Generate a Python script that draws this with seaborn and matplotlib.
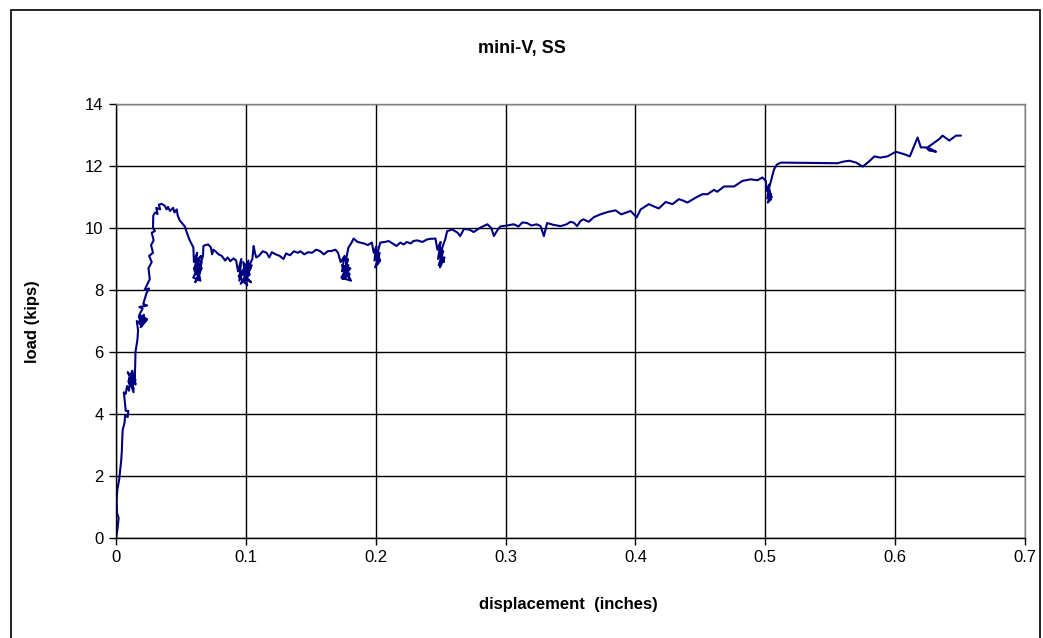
import matplotlib
matplotlib.use('agg')
import matplotlib.pyplot as plt
import seaborn as sns
import pandas as pd
from matplotlib.patches import Rectangle

# load-displacement record
# (each line of displacement_in pairs with the same line of load_kips)
displacement_in = [
    0.0000, 0.0012, 0.0020, 0.0008, 0.0005, 0.0010, 0.0025, 0.0030, 0.0040, 0.0045,
    0.0048, 0.0052, 0.0065, 0.0070, 0.0090, 0.0095, 0.0075, 0.0068, 0.0060, 0.0075,
    0.0085, 0.0100, 0.0110, 0.0090, 0.0120, 0.0135, 0.0105, 0.0140, 0.0150, 0.0125,
    0.0095, 0.0130, 0.0110, 0.0145, 0.0100, 0.0135, 0.0120, 0.0150, 0.0115, 0.0140,
    0.0145, 0.0148, 0.0150, 0.0165, 0.0170,
    0.0160, 0.0200, 0.0175, 0.0230, 0.0185, 0.0215, 0.0195, 0.0170, 0.0225, 0.0190,
    0.0240, 0.0180, 0.0205, 0.0180, 0.0240, 0.0210, 0.0235, 0.0255, 0.0220, 0.0260,
    0.0250, 0.0275, 0.0255, 0.0285, 0.0270, 0.0290, 0.0275, 0.0300, 0.0285, 0.0287,
    0.0300, 0.0320, 0.0310, 0.0340, 0.0330, 0.0350, 0.0375, 0.0390, 0.0400, 0.0416,
    0.0440, 0.0450, 0.0468, 0.0475, 0.0490, 0.0530, 0.0550, 0.0565, 0.0580, 0.0596,
    0.0600, 0.0625, 0.0605, 0.0640, 0.0595, 0.0650, 0.0615, 0.0660, 0.0610, 0.0645,
    0.0620, 0.0655, 0.0600, 0.0635, 0.0625, 0.0660, 0.0605, 0.0640, 0.0615, 0.0650,
    0.0670, 0.0673, 0.0690, 0.0710, 0.0730, 0.0740, 0.0750, 0.0763, 0.0790, 0.0815,
    0.0840, 0.0860, 0.0880, 0.0905, 0.0925,
    0.0940, 0.0965, 0.0950, 0.0990, 0.0945, 0.1010, 0.0980, 0.1030, 0.0960, 0.1045,
    0.1000, 0.1020, 0.0970, 0.1040, 0.0990, 0.1035, 0.1005, 0.1050,
    0.1060, 0.1070, 0.1080, 0.1100, 0.1130, 0.1160, 0.1180, 0.1200, 0.1230, 0.1260,
    0.1290, 0.1310, 0.1340, 0.1370, 0.1400, 0.1420, 0.1450, 0.1480, 0.1510, 0.1540,
    0.1570, 0.1600, 0.1630, 0.1660, 0.1690, 0.1710,
    0.1730, 0.1760, 0.1740, 0.1790, 0.1735, 0.1810, 0.1750, 0.1800, 0.1745, 0.1785,
    0.1760, 0.1805, 0.1740, 0.1795, 0.1770, 0.1790,
    0.1810, 0.1830, 0.1860, 0.1880, 0.1910, 0.1940, 0.1970,
    0.1985, 0.2005, 0.1990, 0.2025, 0.1995, 0.2035, 0.2000, 0.2015, 0.2030, 0.2005,
    0.2035, 0.2070, 0.2100, 0.2130, 0.2160, 0.2190, 0.2215, 0.2240, 0.2270, 0.2290,
    0.2320, 0.2360, 0.2395, 0.2420, 0.2460,
    0.2475, 0.2500, 0.2480, 0.2520, 0.2485, 0.2530, 0.2495, 0.2510, 0.2490, 0.2525,
    0.2500, 0.2515, 0.2535,
    0.2550, 0.2590, 0.2630, 0.2650, 0.2680, 0.2720, 0.2755, 0.2800, 0.2860, 0.2890,
    0.2910, 0.2940, 0.2960, 0.3010, 0.3063, 0.3100, 0.3130, 0.3165, 0.3200, 0.3240,
    0.3270, 0.3295, 0.3320, 0.3370, 0.3425, 0.3470, 0.3500, 0.3526, 0.3550, 0.3578,
    0.3600, 0.3640, 0.3680, 0.3730, 0.3790, 0.3847, 0.3890, 0.3930, 0.3963, 0.4010,
    0.4040, 0.4104, 0.4140, 0.4180, 0.4233, 0.4285, 0.4335, 0.4370, 0.4400, 0.4464,
    0.4516, 0.4555, 0.4605, 0.4630, 0.4683, 0.4760, 0.4824, 0.4888, 0.4940, 0.4978,
    0.5004, 0.5010, 0.5030, 0.5015, 0.5045, 0.5020, 0.5050, 0.5025, 0.5040, 0.5030,
    0.5068, 0.5090, 0.5120, 0.5557, 0.5600, 0.5647, 0.5700, 0.5750, 0.5800, 0.5840,
    0.5885, 0.5940, 0.6006, 0.6070, 0.6113, 0.6173, 0.6198, 0.6237, 0.6262, 0.6315,
    0.6250, 0.6340, 0.6365, 0.6417, 0.6469, 0.6507,
]

load_kips = [
    0.00, 0.30, 0.65, 0.80, 1.20, 1.55, 1.90, 2.10, 2.50, 2.80,
    3.20, 3.50, 3.70, 3.95, 3.90, 4.10, 4.10, 4.40, 4.70, 4.65,
    4.90, 4.75, 5.20, 5.35, 5.10, 4.80, 5.00, 5.30, 4.95, 5.40,
    5.05, 4.85, 5.25, 5.00, 5.15, 4.70, 5.30, 5.10, 4.90, 5.20,
    5.20, 5.60, 6.00, 6.40, 6.70,
    7.00, 6.85, 7.15, 7.00, 6.90, 7.20, 7.05, 6.95, 7.10, 6.80,
    7.05, 7.20, 7.40, 7.45, 7.50, 7.55, 7.90, 8.05, 8.00, 8.35,
    8.70, 8.90, 9.10, 9.20, 9.45, 9.60, 9.85, 9.90, 10.00, 10.40,
    10.50, 10.45, 10.65, 10.60, 10.75, 10.78, 10.72, 10.60, 10.68, 10.55,
    10.65, 10.50, 10.60, 10.40, 10.25, 10.05, 9.80, 9.63, 9.50, 9.37,
    8.90, 9.20, 8.60, 8.80, 8.40, 8.30, 9.00, 8.70, 8.25, 8.55,
    8.95, 9.10, 8.70, 8.45, 8.35, 8.90, 9.05, 8.65, 8.50, 8.85,
    9.10, 9.42, 9.45, 9.47, 9.38, 9.15, 9.30, 9.26, 9.15, 9.10,
    8.95, 9.05, 8.93, 9.02, 8.95,
    8.60, 9.00, 8.30, 8.70, 8.45, 8.15, 8.90, 8.50, 8.20, 8.80,
    8.35, 8.95, 8.55, 8.25, 8.40, 8.70, 8.60, 9.00,
    9.42, 9.20, 9.05, 9.10, 9.25, 9.20, 9.05, 9.22, 9.15, 9.10,
    9.00, 9.18, 9.12, 9.25, 9.20, 9.25, 9.15, 9.22, 9.20, 9.30,
    9.26, 9.15, 9.25, 9.26, 9.30, 9.20,
    8.90, 9.10, 8.60, 8.80, 8.40, 8.30, 8.75, 8.50, 8.35, 9.00,
    8.45, 8.70, 8.80, 8.40, 8.95, 9.37,
    9.50, 9.66, 9.55, 9.53, 9.50, 9.45, 9.53,
    9.20, 9.40, 8.95, 9.10, 8.73, 8.95, 9.30, 8.85, 9.20, 9.05,
    9.53, 9.55, 9.58, 9.50, 9.42, 9.53, 9.47, 9.55, 9.50, 9.58,
    9.60, 9.55, 9.63, 9.65, 9.66,
    9.30, 9.55, 9.00, 9.25, 8.80, 9.05, 8.73, 9.15, 9.45, 8.90,
    9.10, 9.40, 9.63,
    9.90, 9.95, 9.85, 9.74, 9.97, 9.95, 9.87, 10.00, 10.12, 10.00,
    9.74, 9.95, 10.05, 10.08, 10.12, 10.05, 10.18, 10.16, 10.08, 10.12,
    10.06, 9.74, 10.16, 10.10, 10.06, 10.12, 10.20, 10.17, 10.06, 10.23,
    10.28, 10.20, 10.35, 10.44, 10.52, 10.57, 10.44, 10.50, 10.55, 10.34,
    10.60, 10.77, 10.70, 10.63, 10.84, 10.77, 10.93, 10.88, 10.82, 10.98,
    11.09, 11.09, 11.23, 11.17, 11.34, 11.34, 11.52, 11.57, 11.54, 11.63,
    11.52, 11.20, 11.40, 10.95, 11.10, 10.82, 11.00, 11.25, 10.90, 11.30,
    11.90, 12.05, 12.11, 12.09, 12.14, 12.17, 12.11, 11.98, 12.15, 12.31,
    12.27, 12.31, 12.46, 12.38, 12.31, 12.92, 12.60, 12.60, 12.50, 12.46,
    12.60, 12.87, 12.98, 12.82, 12.98, 12.98,
]

x_ticks = [0, 0.1, 0.2, 0.3, 0.4, 0.5, 0.6, 0.7]
x_tick_labels = ['0', '0.1', '0.2', '0.3', '0.4', '0.5', '0.6', '0.7']
y_ticks = [0, 2, 4, 6, 8, 10, 12, 14]

LINE_COLOR = '#000080'

sns.set_style("white")
plt.rcParams['font.family'] = ['Liberation Sans', 'DejaVu Sans']
plt.rcParams['text.color'] = 'black'
plt.rcParams['xtick.color'] = 'black'
plt.rcParams['ytick.color'] = 'black'

df = pd.DataFrame({'displacement': displacement_in, 'load': load_kips})

fig = plt.figure(figsize=(10.43, 6.38), dpi=100)
ax = fig.add_axes([116 / 1043, 100 / 638, (1025 - 116) / 1043, (539 - 105) / 638])

sns.lineplot(data=df, x='displacement', y='load', sort=False, estimator=None,
             color=LINE_COLOR, linewidth=1.5, ax=ax)

ax.set_xlim(0, 0.7)
ax.set_ylim(0, 14)
ax.set_xticks(x_ticks)
ax.set_xticklabels(x_tick_labels)
ax.set_yticks(y_ticks)
ax.grid(True, color='black', linewidth=1)
ax.set_axisbelow(True)

for side in ['left', 'bottom']:
    ax.spines[side].set_color('black')
    ax.spines[side].set_linewidth(1)
for side in ['top', 'right']:
    ax.spines[side].set_color('#808080')
    ax.spines[side].set_linewidth(1)

ax.tick_params(axis='both', which='major', direction='out', length=5, width=1,
               color='black', labelcolor='black', labelsize=12, pad=4,
               bottom=True, left=True)

ax.set_xlabel('')
ax.set_ylabel('')
fig.text(0.5, 1 - 48 / 638, 'mini-V, SS', ha='center', va='center',
         fontsize=13, fontweight='bold', color='black')
fig.text(568 / 1043, 1 - 604 / 638, 'displacement  (inches)', ha='center',
         va='center', fontsize=12, fontweight='bold', color='black')
fig.text(32 / 1043, 1 - 322 / 638, 'load (kips)', ha='center', va='center',
         rotation=90, fontsize=12, fontweight='bold', color='black')

# chart-area border (bottom edge runs off the image)
border = Rectangle((11 / 1043, -0.02), (1040 - 11) / 1043, 1.02 - 10 / 638,
                   transform=fig.transFigure, fill=False, edgecolor='black',
                   linewidth=1.2, clip_on=False)
fig.patches.append(border)

fig.savefig('out.png', dpi=100)
